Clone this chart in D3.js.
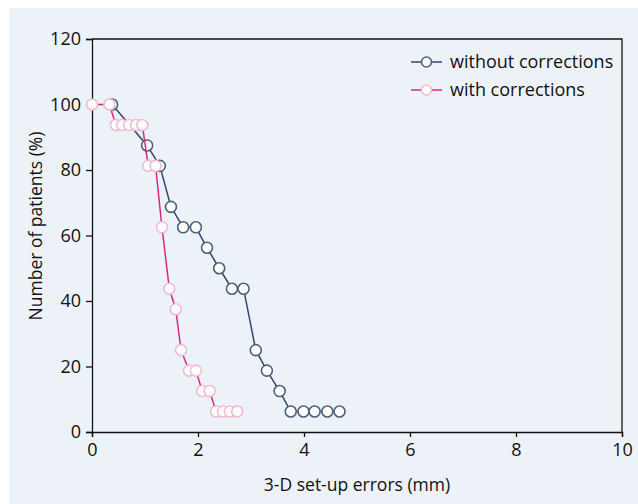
<!DOCTYPE html>
<html>
<head>
<meta charset="utf-8">
<script src="https://cdn.jsdelivr.net/npm/d3@7"></script>
<style>
  body { margin: 0; background: #ffffff; }
</style>
</head>
<body>
<svg></svg>
<script>
// without corrections
let withoutX = [0.38, 1.04, 1.28, 1.49, 1.72, 1.96, 2.17, 2.40, 2.64, 2.86, 3.09, 3.30, 3.54, 3.75, 3.99, 4.20, 4.44, 4.67];
let withoutY = [100, 87.5, 81.25, 68.75, 62.5, 62.5, 56.25, 50, 43.75, 43.75, 25, 18.75, 12.5, 6.25, 6.25, 6.25, 6.25, 6.25];

// with corrections
let withX = [0, 0.33, 0.45, 0.57, 0.70, 0.83, 0.95, 1.06, 1.20, 1.32, 1.46, 1.58, 1.68, 1.83, 1.96, 2.08, 2.22, 2.34, 2.47, 2.60, 2.74];
let withY = [100, 100, 93.75, 93.75, 93.75, 93.75, 93.75, 81.25, 81.25, 62.5, 43.75, 37.5, 25, 18.75, 18.75, 12.5, 12.5, 6.25, 6.25, 6.25, 6.25];

let xTicks = [0, 2, 4, 6, 8, 10];
let yTicks = [0, 20, 40, 60, 80, 100, 120];

let seriesNames = ['without corrections', 'with corrections'];

window.onload = () => {
    let width = 638;
    let height = 504;
    let font = '"Open Sans", sans-serif';

    let svg = d3.select('svg')
        .attr('width', width)
        .attr('height', height)
        .attr('font-family', font);

    svg.append('rect')
        .attr('x', 9)
        .attr('y', 8)
        .attr('width', width - 9)
        .attr('height', height - 8)
        .attr('fill', '#edf2f9');

    let left = 92, right = 622, top = 39, bottom = 432;

    let x = d3.scaleLinear().domain([0, 10]).range([left, right]);
    let y = d3.scaleLinear().domain([0, 120]).range([bottom, top]);

    // frame
    svg.append('path')
        .attr('d', `M${left},${top}H${right}V${bottom}`)
        .attr('fill', 'none')
        .attr('stroke', '#111')
        .attr('stroke-width', 1.3);

    let xAxis = svg.append('g')
        .attr('transform', `translate(0,${bottom})`)
        .call(d3.axisBottom(x).tickValues(xTicks).tickSize(5).tickPadding(6));

    let yAxis = svg.append('g')
        .attr('transform', `translate(${left},0)`)
        .call(d3.axisLeft(y).tickValues(yTicks).tickSize(6).tickPadding(5));

    [xAxis, yAxis].forEach(a => {
        a.attr('font-size', 18).attr('font-family', font);
        a.select('.domain').attr('stroke', '#111').attr('stroke-width', 1.3);
        a.selectAll('.tick line').attr('stroke', '#111').attr('stroke-width', 1.3);
        a.selectAll('.tick text').attr('fill', '#111');
    });

    svg.append('text')
        .attr('x', (left + right) / 2)
        .attr('y', 491)
        .attr('text-anchor', 'middle')
        .attr('font-size', 17.5)
        .attr('fill', '#111')
        .text('3-D set-up errors (mm)');

    svg.append('text')
        .attr('transform', `translate(42,226) rotate(-90)`)
        .attr('text-anchor', 'middle')
        .attr('font-size', 17.5)
        .attr('fill', '#111')
        .text('Number of patients (%)');

    let series = [
        { name: seriesNames[0], xs: withoutX, ys: withoutY, line: '#34466c', dot: '#4d6279' },
        { name: seriesNames[1], xs: withX, ys: withY, line: '#d62a80', dot: '#f2bcd0' }
    ];

    let line = d3.line().x(d => x(d[0])).y(d => y(d[1]));

    series.forEach(s => {
        let pts = s.xs.map((v, i) => [v, s.ys[i]]);
        svg.append('path')
            .datum(pts)
            .attr('d', line)
            .attr('fill', 'none')
            .attr('stroke', s.line)
            .attr('stroke-width', 1.5);

        svg.append('g')
            .selectAll('circle')
            .data(pts)
            .enter()
            .append('circle')
            .attr('cx', d => x(d[0]))
            .attr('cy', d => y(d[1]))
            .attr('r', 5.5)
            .attr('fill', '#fff')
            .attr('stroke', s.dot)
            .attr('stroke-width', 1.6);
    });

    // legend
    let legend = svg.append('g')
        .selectAll('g')
        .data(series)
        .enter()
        .append('g')
        .attr('transform', (d, i) => `translate(411,${62 + i * 28})`);

    legend.append('line')
        .attr('x1', 0).attr('x2', 31)
        .attr('stroke', d => d.line)
        .attr('stroke-width', 1.5);

    legend.append('circle')
        .attr('cx', 15.5)
        .attr('r', 5)
        .attr('fill', '#fff')
        .attr('stroke', d => d.dot)
        .attr('stroke-width', 1.6);

    legend.append('text')
        .attr('x', 39)
        .attr('dy', '0.35em')
        .attr('font-size', 18)
        .attr('fill', '#111')
        .text(d => d.name);
};
</script>
</body>
</html>
